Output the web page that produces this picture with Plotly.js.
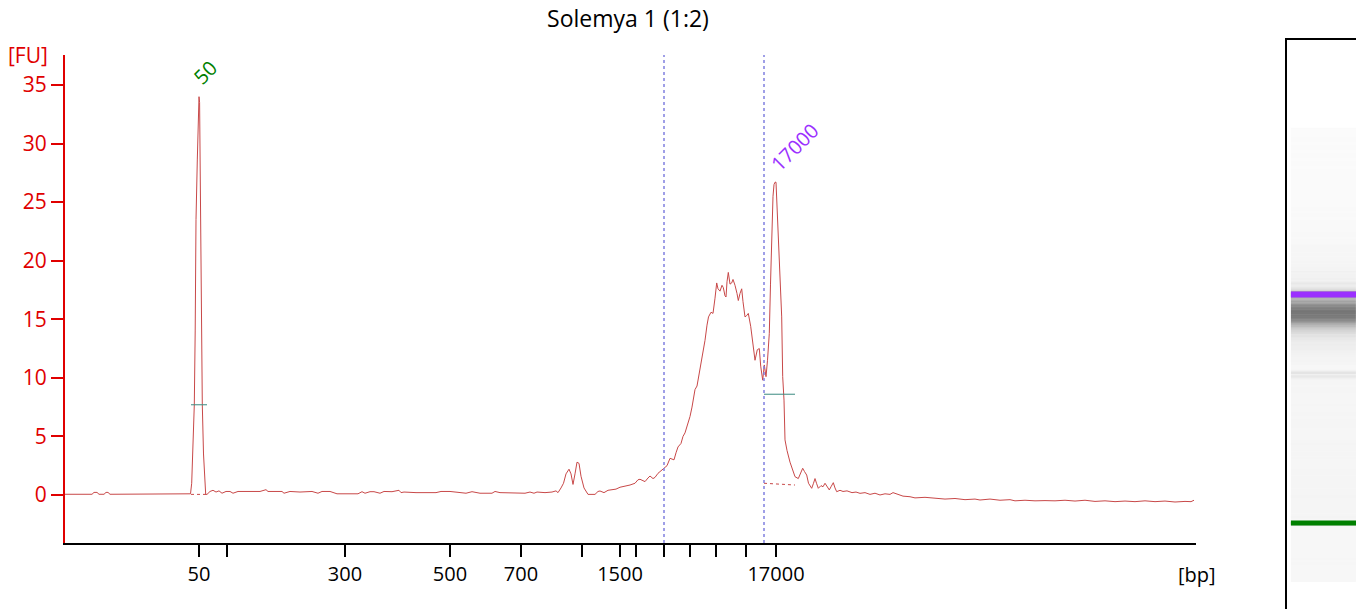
<!DOCTYPE html>
<html>
<head>
<meta charset="utf-8">
<script src="https://cdn.plot.ly/plotly-3.0.1.min.js"></script>
<style>html,body{margin:0;padding:0;background:#fff;}#chart{width:1356px;height:609px;}</style>
</head>
<body>
<div id="chart"></div>
<script>
// Migration position (arbitrary units along the electropherogram) and fluorescence [FU]
const migration = [
  65, 92, 94, 97, 99, 104, 106, 108, 110, 150, 189,
  190.5, 191.7, 193, 194.3, 195.2, 196, 197.3, 198.3, 199, 199.6, 200, 200.7, 201.3, 202.3, 203.5, 204.7, 205.7,
  207, 210, 213, 216, 219, 222, 226, 230, 233, 238,
  241, 245, 252, 260, 266, 268, 275, 282, 284, 290,
  300, 303, 312, 318, 322, 330, 337, 358, 362, 365,
  370, 374, 380, 384, 392, 399, 401, 404, 410, 416,
  425, 436, 441, 450, 466, 470, 472, 480, 492, 495,
  500, 525, 530, 534, 537, 545, 552, 556,
  558, 561, 563.5, 566, 569, 571, 573, 575, 577, 579,
  581, 584, 588, 595, 598,
  600, 604, 608, 612, 616, 620, 625, 630, 635, 638,
  640, 645, 648, 650, 653, 655, 658, 660, 664, 667,
  670, 674, 676, 678, 681, 683, 685, 688, 690, 692,
  695, 697, 700, 702, 705, 707, 708.5, 711, 713, 715,
  716.7, 718, 720, 722, 723.3, 725, 726, 727, 728.3, 730,
  731.7, 733, 735, 737, 738.3, 740, 741.7, 743, 745, 746.5,
  748.3, 750.7, 752, 753.5, 755, 757.3, 759.3, 760.7, 762.7, 764.3,
  766, 767.5, 769.3, 770.5, 771.7, 773, 774, 775, 776, 777.3,
  778.5, 780, 781.7, 782.7, 784, 785, 787, 790, 792, 795,
  798.3, 800, 802.7, 804.5, 806.7, 808.5, 811.7, 813.5, 815, 816.5,
  818.3, 821, 823, 825, 827, 829.3, 831, 833.3, 835, 836.7,
  840, 843, 847, 852, 856, 860, 865, 870, 875, 880,
  885, 890, 893, 897, 903, 910, 915, 925, 935, 945,
  955, 965, 975, 980, 990, 1000, 1010, 1015, 1025, 1035,
  1045, 1055, 1065, 1075, 1085, 1095, 1105, 1115, 1125, 1135,
  1145, 1155, 1165, 1175, 1185, 1191, 1194
];
const fu = [
  0.06, 0.06, 0.22, 0.22, 0.06, 0.06, 0.22, 0.22, 0.06, 0.06, 0.06,
  0.1, 1.0, 4, 7.7, 14, 23.5, 28.6, 33.7, 34.0, 33.5, 28.6, 23.5, 15, 7.7, 3.5, 1.0, 0.05,
  0.05, 0.3, 0.4, 0.25, 0.35, 0.15, 0.3, 0.3, 0.15, 0.3,
  0.3, 0.3, 0.28, 0.3, 0.45, 0.3, 0.3, 0.3, 0.15, 0.3,
  0.25, 0.25, 0.3, 0.15, 0.3, 0.3, 0.1, 0.1, 0.28, 0.15,
  0.28, 0.28, 0.15, 0.3, 0.28, 0.4, 0.2, 0.25, 0.2, 0.2,
  0.2, 0.2, 0.3, 0.3, 0.15, 0.28, 0.28, 0.15, 0.15, 0.3,
  0.2, 0.15, 0.25, 0.15, 0.25, 0.2, 0.25, 0.35,
  0.2, 0.6, 1.0, 1.8, 2.2, 1.8, 0.9, 1.8, 2.8, 2.7,
  1.6, 0.6, 0.05, 0.05, 0.3,
  0.34, 0.2, 0.4, 0.45, 0.5, 0.66, 0.75, 0.85, 1.0, 1.3,
  1.34, 1.14, 1.45, 1.62, 1.4, 1.5, 1.85, 2.0, 2.28, 2.5,
  3.13, 3.0, 3.6, 4.1, 4.4, 5.0, 5.3, 6.1, 6.7, 7.5,
  9.0, 9.3, 10.7, 11.5, 13.2, 14.5, 15.2, 15.6, 15.5, 16.8,
  18.1, 17.6, 17.4, 17.9, 17.7, 17.0, 16.9, 18.2, 19.0, 18.0,
  18.1, 18.4, 17.9, 17.2, 16.6, 17.2, 17.6, 16.5, 15.2, 15.3,
  15.5, 14.4, 13.6, 12.4, 11.5, 12.4, 12.5, 11.0, 9.8, 11.1,
  10.1, 11.5, 13.8, 18, 21.8, 25.5, 26.5, 26.7, 26.7, 24.3,
  21.5, 19.5, 15.2, 10.1, 8.1, 4.7, 3.8, 2.8, 2.3, 1.56,
  1.4, 1.8, 2.28, 2.0, 1.7, 1.0, 0.57, 1.0, 1.4, 1.0,
  0.57, 0.8, 0.7, 1.0, 0.7, 0.43, 0.7, 1.05, 0.6, 0.28,
  0.4, 0.3, 0.35, 0.2, 0.25, 0.14, 0.2, 0.05, 0.15, 0.0,
  0.1, 0.05, 0.2, 0.1, -0.1, -0.15, -0.25, -0.2, -0.3, -0.35,
  -0.3, -0.4, -0.35, -0.43, -0.35, -0.45, -0.4, -0.5, -0.45, -0.5,
  -0.48, -0.5, -0.45, -0.52, -0.45, -0.55, -0.5, -0.57, -0.52, -0.57,
  -0.5, -0.57, -0.52, -0.6, -0.55, -0.57, -0.45
];

// Size-axis ticks (ladder positions) and their labels
const tickPositions = [199, 227, 345, 450, 521, 582, 620, 636, 664, 690, 716, 746, 776];
const tickLabels = ['50', '', '300', '500', '700', '', '1500', '', '', '', '', '', '17000'];

// Markers (lower / upper)
const markerNames = ['50', '17000'];
const markerPeakPos = [199, 775];
const markerPeakFU = [34.0, 26.7];
const markerColors = ['#008000', '#9b30ff'];

// Peak table: start/end, half-height and baseline levels
const peakStart = [191, 764];
const peakEnd = [207, 795];
const peakHalfHeight = [7.7, 8.6];
const peakBaseStart = [0.05, 1.0];
const peakBaseEnd = [0.05, 0.85];

// Region of interest
const regionBounds = [664, 764];

const fuTicks = [0, 5, 10, 15, 20, 25, 30, 35];

const traces = [];

// Gel-like lane (same signal, drawn as a grey-scale heat strip)
traces.push({
  type: 'heatmap', xaxis: 'x2', yaxis: 'y2',
  x: [0], y: migration, z: fu.map(v => [v]),
  zmin: -0.6, zmax: 22, zsmooth: false,
  colorscale: [[0, '#fbfbfb'], [0.5, '#b0b0b0'], [1, '#5a5a5a']],
  showscale: false, hoverinfo: 'skip'
});
markerPeakPos.forEach((p, i) => {
  traces.push({
    type: 'scatter', mode: 'lines', xaxis: 'x2', yaxis: 'y2',
    x: [-0.5, 0.5], y: [p, p],
    line: {color: markerColors[i], width: i === 0 ? 5 : 6},
    hoverinfo: 'skip'
  });
});

// Main electropherogram trace
traces.push({
  type: 'scatter', mode: 'lines', x: migration, y: fu,
  line: {color: '#c84848', width: 1}, hoverinfo: 'x+y'
});

// Peak baselines (dotted) and half-height bars
peakStart.forEach((s, i) => {
  traces.push({
    type: 'scatter', mode: 'lines', x: [s, peakEnd[i]], y: [peakBaseStart[i], peakBaseEnd[i]],
    line: {color: '#c84848', width: 1, dash: 'dot'}, hoverinfo: 'skip'
  });
  traces.push({
    type: 'scatter', mode: 'lines', x: [s, peakEnd[i]], y: [peakHalfHeight[i], peakHalfHeight[i]],
    line: {color: '#3a8a80', width: 1}, hoverinfo: 'skip'
  });
});

const shapes = regionBounds.map(b => ({
  type: 'line', xref: 'x', yref: 'y domain', x0: b, x1: b, y0: 0, y1: 1,
  line: {color: '#8080e0', width: 1.5, dash: 'dot'}
}));

const annotations = [
  {text: '[FU]', xref: 'paper', yref: 'paper', x: -0.0287, y: 0.9736, showarrow: false,
   xanchor: 'center', yanchor: 'middle', font: {color: '#e00000', size: 21}},
  {text: '[bp]', xref: 'paper', yref: 'paper', x: 0.8769, y: 0.0615, showarrow: false,
   xanchor: 'center', yanchor: 'middle', font: {color: '#000', size: 20}}
];
const labelShift = [[6, 24], [19, 35]];
markerNames.forEach((n, i) => {
  annotations.push({
    text: n, xref: 'x', yref: 'y', x: markerPeakPos[i], y: markerPeakFU[i],
    xshift: labelShift[i][0], yshift: labelShift[i][1], showarrow: false,
    xanchor: 'center', yanchor: 'middle', textangle: -45,
    font: {color: markerColors[i], size: 20}
  });
});

const layout = {
  width: 1356, height: 609,
  margin: {l: 65, r: 0, t: 40, b: 0},
  paper_bgcolor: '#ffffff', plot_bgcolor: '#ffffff',
  showlegend: false,
  font: {family: 'Open Sans, sans-serif', size: 20, color: '#000'},
  title: {text: 'Solemya 1 (1:2)', xref: 'container', yref: 'container',
          x: 628 / 1356, y: 1 - 19 / 609, xanchor: 'center', yanchor: 'middle',
          font: {size: 23, color: '#000'}},
  xaxis: {
    domain: [0, 1131 / 1291], range: [65, 1196], anchor: 'y',
    tickmode: 'array', tickvals: tickPositions, ticktext: tickLabels,
    ticks: 'outside', ticklen: 12, tickwidth: 2, tickcolor: '#000',
    showline: true, linecolor: '#000', linewidth: 2,
    showgrid: false, zeroline: false, tickfont: {size: 20, color: '#000'}
  },
  yaxis: {
    domain: [66 / 569, 554 / 569], range: [-4.1, 37.56], anchor: 'x',
    tickmode: 'array', tickvals: fuTicks,
    ticks: 'outside', ticklen: 12, tickwidth: 2, tickcolor: '#e00000',
    showline: true, linecolor: '#e00000', linewidth: 2,
    showgrid: false, zeroline: false, tickfont: {size: 21, color: '#e00000'}
  },
  xaxis2: {
    domain: [(1287 - 65) / 1291, 1], range: [-0.56, 0.5], anchor: 'y2', side: 'top',
    showline: true, linecolor: '#000', linewidth: 2,
    showticklabels: false, ticks: '', showgrid: false, zeroline: false, fixedrange: true
  },
  yaxis2: {
    domain: [0, 1], range: [-17.9, 1417.2], anchor: 'x2',
    showline: true, linecolor: '#000', linewidth: 2,
    showticklabels: false, ticks: '', showgrid: false, zeroline: false, fixedrange: true
  },
  shapes: shapes,
  annotations: annotations
};

Plotly.newPlot('chart', traces, layout, {displayModeBar: false, staticPlot: true});
</script>
</body>
</html>
